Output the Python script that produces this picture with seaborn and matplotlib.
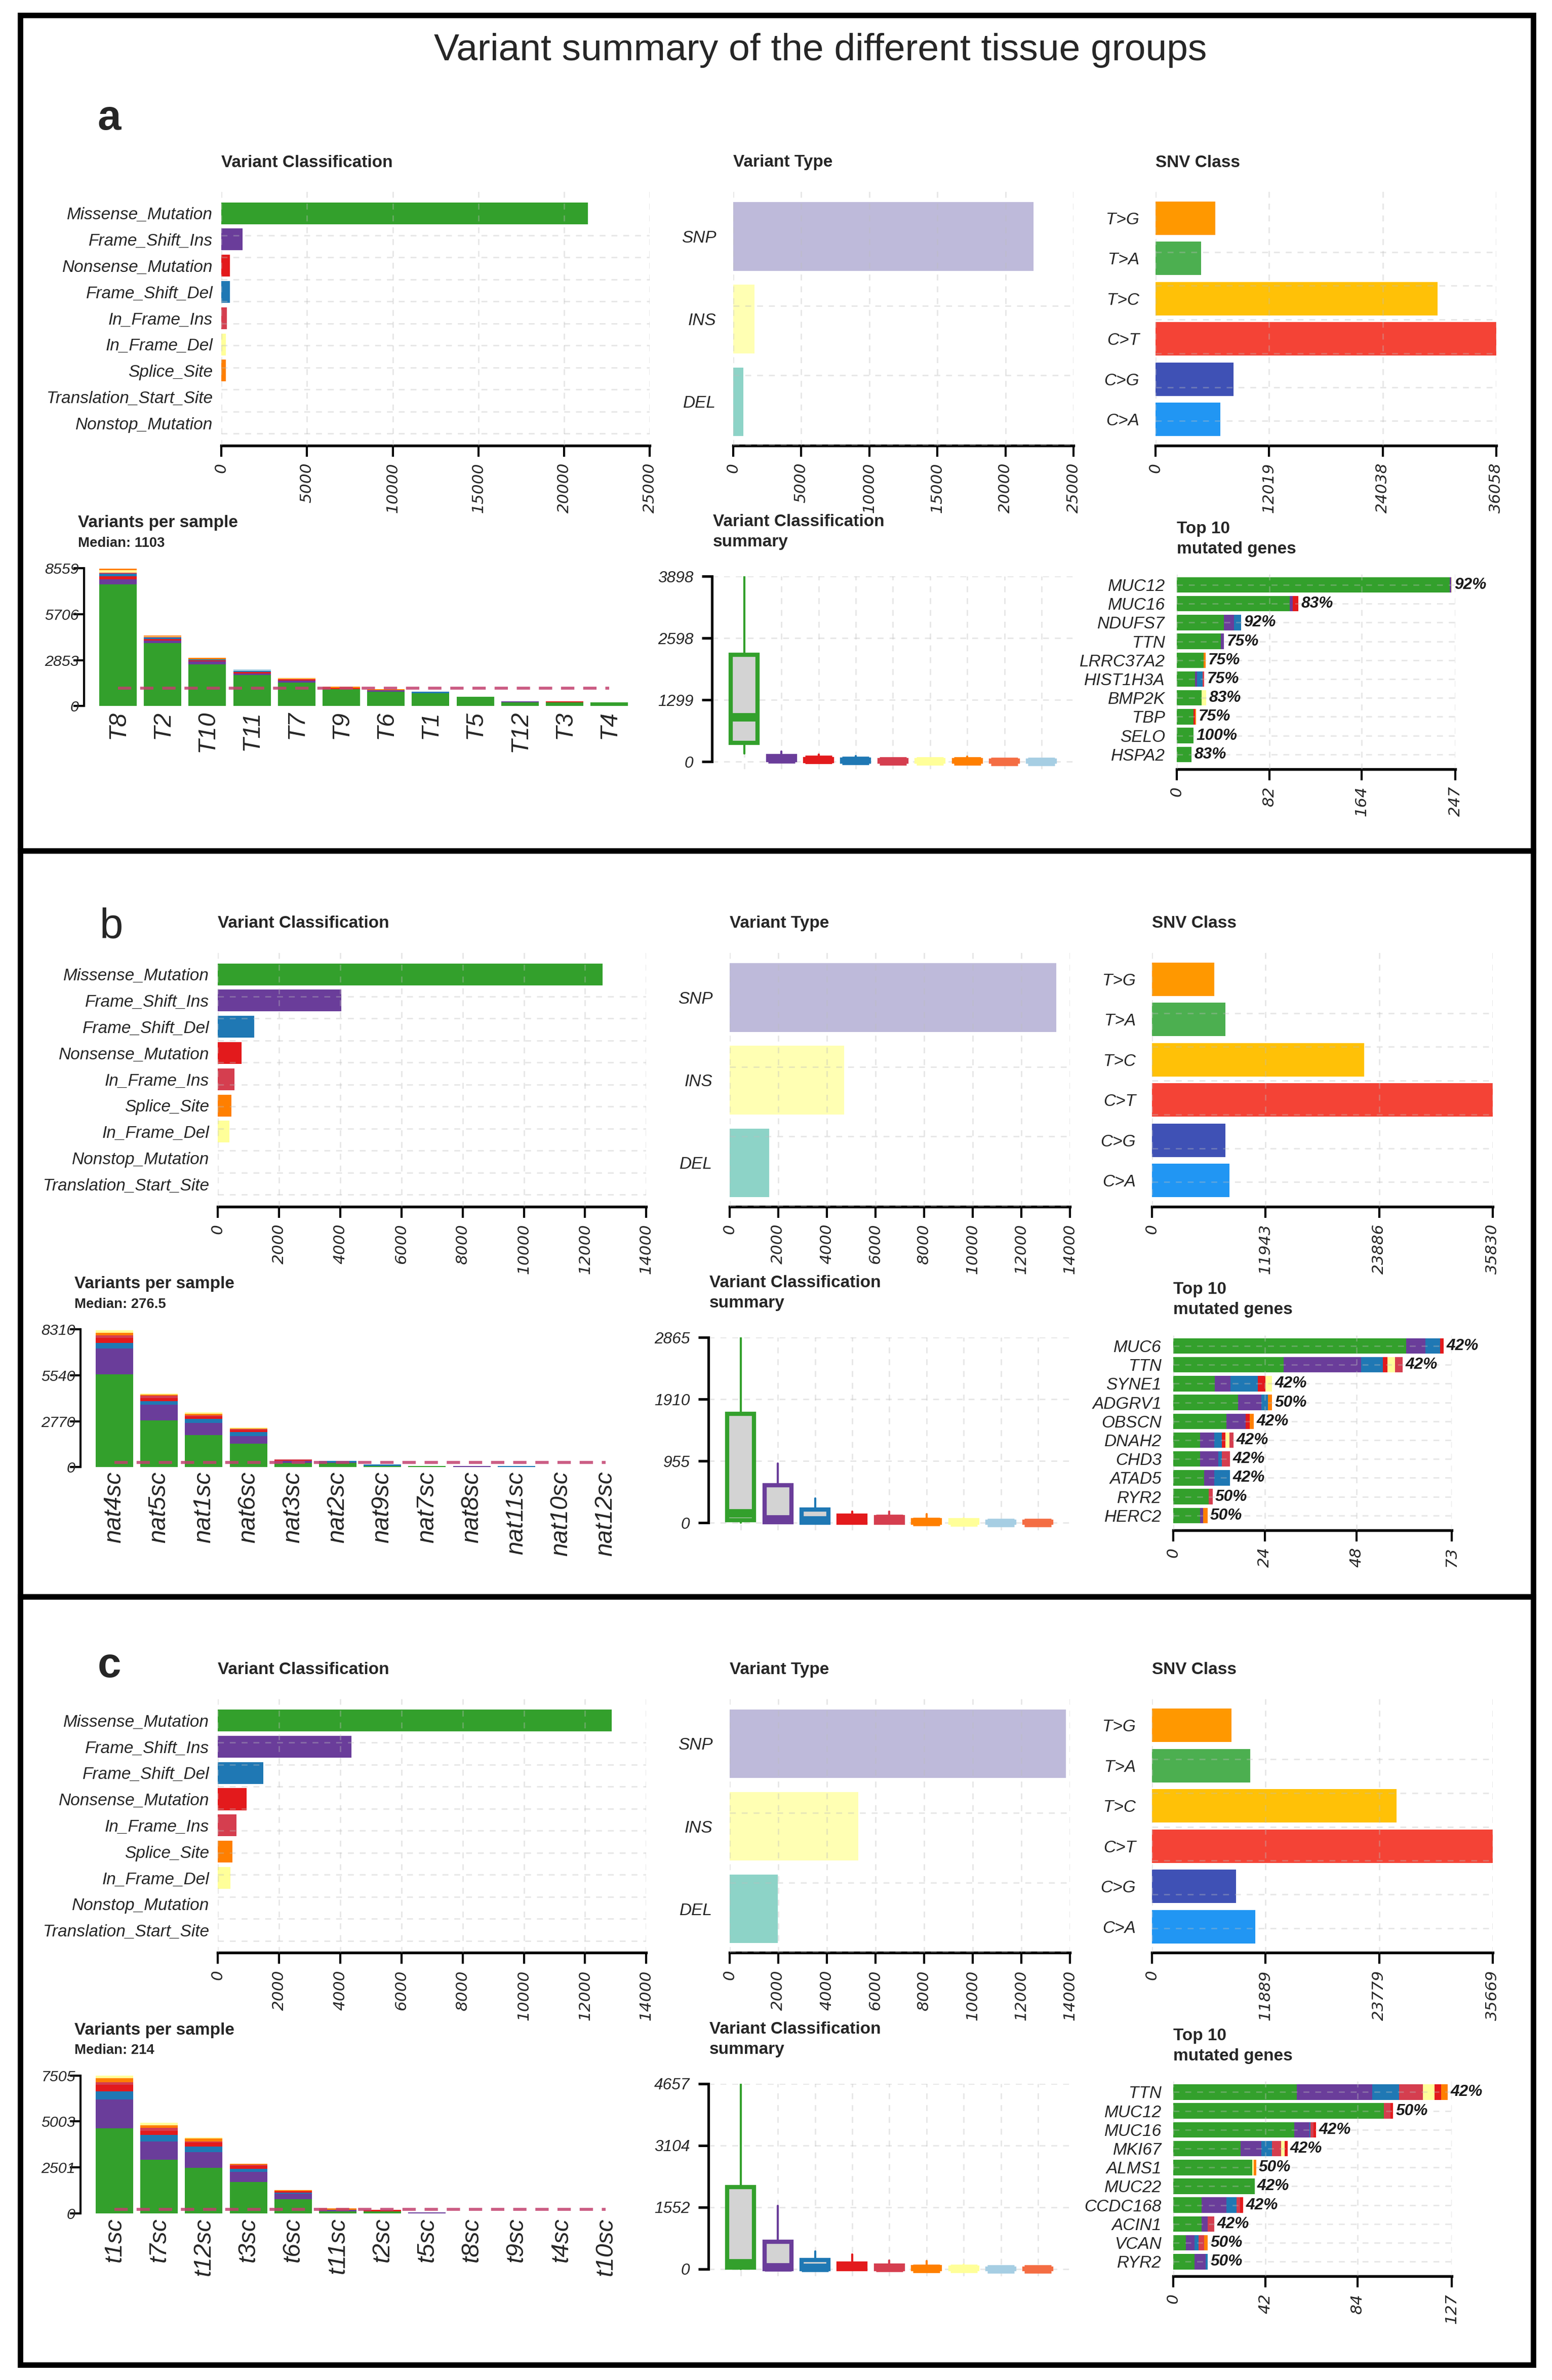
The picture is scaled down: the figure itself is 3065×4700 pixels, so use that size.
import matplotlib
matplotlib.use("Agg")
import matplotlib.pyplot as plt
from matplotlib.patches import Rectangle
from matplotlib.ticker import MultipleLocator
import pandas as pd
import seaborn as sns

# colours (maftools defaults)
VC_COLORS = {
    "Missense_Mutation": "#33A02C", "Frame_Shift_Ins": "#6A3D9A",
    "Nonsense_Mutation": "#E31A1C", "Frame_Shift_Del": "#1F78B4",
    "In_Frame_Ins": "#D53E4F", "In_Frame_Del": "#FFFF99",
    "Splice_Site": "#FF7F00", "Translation_Start_Site": "#F46D43",
    "Nonstop_Mutation": "#A6CEE3",
}
VT_COLORS = {"SNP": "#BEBADA", "INS": "#FFFFB3", "DEL": "#8DD3C7"}
SNV_COLORS = {"T>G": "#FF9800", "T>A": "#4CAF50", "T>C": "#FFC107",
              "C>T": "#F44336", "C>G": "#3F51B5", "C>A": "#2196F3"}

VT_TYPES = ["SNP", "INS", "DEL"]
SNV_CLASSES = ["T>G", "T>A", "T>C", "C>T", "C>G", "C>A"]

# ---------------- panel a ----------------
A_VC_CLASSES = ["Missense_Mutation", "Frame_Shift_Ins", "Nonsense_Mutation", "Frame_Shift_Del",
                "In_Frame_Ins", "In_Frame_Del", "Splice_Site", "Translation_Start_Site",
                "Nonstop_Mutation"]
A_VC_COUNTS = [21384, 1243, 508, 505, 330, 270, 262, 4, 2]
A_VC_TICKS = [0, 5000, 10000, 15000, 20000, 25000]
A_VT_COUNTS = [22078, 1586, 751]
A_SNV_COUNTS = [6331, 4824, 29848, 36058, 8261, 6874]
A_SNV_TICKS = [0, 12019, 24038, 36058]
A_SAMPLES = ["T8", "T2", "T10", "T11", "T7", "T9", "T6", "T1", "T5", "T12", "T3", "T4"]
A_SAMPLE_COUNTS = [
    [7569, 311, 184, 155, 70, 156, 85, 0, 0],
    [3905, 156, 99, 85, 40, 31, 71, 0, 0],
    [2589, 184, 57, 71, 0, 0, 85, 0, 0],
    [1938, 71, 99, 85, 0, 0, 0, 0, 71],
    [1457, 141, 85, 0, 0, 35, 36, 0, 0],
    [1047, 0, 57, 0, 0, 0, 99, 0, 0],
    [877, 99, 0, 0, 0, 0, 71, 0, 0],
    [806, 0, 0, 71, 0, 0, 0, 0, 0],
    [566, 0, 0, 0, 0, 0, 0, 0, 0],
    [226, 85, 0, 0, 0, 0, 0, 0, 0],
    [226, 0, 85, 0, 0, 0, 0, 0, 0],
    [240, 0, 0, 0, 0, 0, 0, 0, 0],
]
A_MEDIAN = 1103
A_SAMPLE_TICKS = [0, 2853, 5706, 8559]
A_BOX_LOW = [177, 0, 0, 0, 0, 0, 0, 0, 0]
A_BOX_Q1 = [391, 30, 10, 0, 0, 0, 0, 0, 0]
A_BOX_MED = [940, 57, 40, 20, 15, 10, 15, 0, 0]
A_BOX_Q3 = [2252, 115, 57, 43, 35, 30, 35, 20, 20]
A_BOX_HIGH = [3898, 210, 153, 115, 50, 40, 105, 20, 20]
A_BOX_TICKS = [0, 1299, 2598, 3898]
A_GENES = ["MUC12", "MUC16", "NDUFS7", "TTN", "LRRC37A2", "HIST1H3A", "BMP2K", "TBP", "SELO", "HSPA2"]
A_GENE_CLASSES = ["Missense_Mutation", "Frame_Shift_Ins", "Frame_Shift_Del", "Nonsense_Mutation",
                  "In_Frame_Ins", "In_Frame_Del", "Splice_Site"]
A_GENE_COUNTS = [
    [242, 1.2, 0, 0, 0, 0.8, 0],
    [100, 3, 0, 5, 0, 0, 0],
    [42, 9, 6, 0, 0, 0, 0],
    [39, 3, 0, 0, 0, 0, 0],
    [24, 0, 0, 0, 0, 0, 1.5],
    [16, 2, 5, 0, 1.5, 0, 0],
    [22, 0, 0, 0, 0, 4, 0],
    [15, 0, 0, 1, 0, 0, 1],
    [15, 0, 0, 0, 0, 0, 0],
    [13, 0, 0, 0, 0, 0, 0],
]
A_GENE_PCT = ["92%", "83%", "92%", "75%", "75%", "75%", "83%", "75%", "100%", "83%"]
A_GENE_TICKS = [0, 82, 164, 247]

# ---------------- panel b ----------------
B_VC_CLASSES = ["Missense_Mutation", "Frame_Shift_Ins", "Frame_Shift_Del", "Nonsense_Mutation",
                "In_Frame_Ins", "Splice_Site", "In_Frame_Del", "Nonstop_Mutation",
                "Translation_Start_Site"]
B_VC_COUNTS = [12577, 4041, 1196, 776, 550, 453, 388, 3, 2]
B_VC_TICKS = [0, 2000, 4000, 6000, 8000, 10000, 12000, 14000]
B_VT_COUNTS = [13430, 4721, 1628]
B_SNV_COUNTS = [6562, 7708, 22290, 35830, 7708, 8124]
B_SNV_TICKS = [0, 11943, 23886, 35830]
B_SAMPLES = ["nat4sc", "nat5sc", "nat1sc", "nat6sc", "nat3sc", "nat2sc", "nat9sc", "nat7sc",
             "nat8sc", "nat11sc", "nat10sc", "nat12sc"]
B_SAMPLE_COUNTS = [
    [5612, 1553, 313, 328, 149, 150, 151, 0, 0],
    [2819, 940, 218, 177, 164, 54, 55, 0, 0],
    [1948, 708, 259, 149, 69, 82, 81, 0, 0],
    [1403, 477, 231, 123, 68, 41, 40, 0, 0],
    [259, 109, 0, 55, 54, 0, 0, 0, 0],
    [259, 40, 82, 0, 0, 0, 0, 0, 0],
    [68, 0, 82, 0, 0, 0, 0, 0, 0],
    [68, 0, 0, 0, 0, 0, 0, 0, 0],
    [0, 68, 0, 0, 0, 0, 0, 0, 0],
    [0, 0, 68, 0, 0, 0, 0, 0, 0],
    [0, 0, 0, 0, 0, 0, 0, 0, 0],
    [0, 0, 0, 0, 0, 0, 0, 0, 0],
]
B_MEDIAN = 276.5
B_SAMPLE_TICKS = [0, 2770, 5540, 8310]
B_BOX_LOW = [0, 0, 0, 0, 0, 0, 0, 0, 0]
B_BOX_Q1 = [40, 10, 0, 0, 0, 0, 0, 0, 0]
B_BOX_MED = [150, 56, 38, 56, 63, 20, 10, 0, 0]
B_BOX_Q3 = [1688, 580, 203, 108, 91, 38, 38, 15, 15]
B_BOX_HIGH = [2865, 919, 377, 171, 171, 133, 73, 15, 15]
B_BOX_TICKS = [0, 955, 1910, 2865]
B_GENES = ["MUC6", "TTN", "SYNE1", "ADGRV1", "OBSCN", "DNAH2", "CHD3", "ATAD5", "RYR2", "HERC2"]
B_GENE_CLASSES = ["Missense_Mutation", "Frame_Shift_Ins", "Frame_Shift_Del", "Nonsense_Mutation",
                  "In_Frame_Del", "In_Frame_Ins", "Splice_Site"]
B_GENE_COUNTS = [
    [61.0, 5.1, 3.8, 1.0, 0, 0, 0],
    [29.0, 20.2, 5.8, 1.1, 2.0, 2.0, 0],
    [10.9, 4.1, 7.2, 2.0, 1.7, 0, 0],
    [17.0, 6.1, 1.7, 0, 0, 0, 1.1],
    [14.0, 5.0, 0, 1.1, 0, 0, 1.0],
    [7.1, 3.6, 2.1, 0.9, 1.0, 1.1, 0],
    [7.1, 4.7, 1.0, 0, 0, 2.1, 0],
    [8.1, 2.6, 4.2, 0, 0, 0, 0],
    [9.3, 0, 0, 0, 0, 1.0, 0],
    [7.1, 0.7, 0, 0, 0, 0, 1.2],
]
B_GENE_PCT = ["42%", "42%", "42%", "50%", "42%", "42%", "42%", "42%", "50%", "50%"]
B_GENE_TICKS = [0, 24, 48, 73]

# ---------------- panel c ----------------
C_VC_CLASSES = B_VC_CLASSES
C_VC_COUNTS = [12868, 4365, 1487, 938, 614, 485, 420, 3, 2]
C_VC_TICKS = [0, 2000, 4000, 6000, 8000, 10000, 12000, 14000]
C_VT_COUNTS = [13837, 5291, 1994]
C_SNV_COUNTS = [8295, 10265, 25612, 35669, 8814, 10784]
C_SNV_TICKS = [0, 11889, 23779, 35669]
C_SAMPLES = ["t1sc", "t7sc", "t12sc", "t3sc", "t6sc", "t11sc", "t2sc", "t5sc", "t8sc", "t9sc",
             "t4sc", "t10sc"]
C_SAMPLE_COUNTS = [
    [4631, 1569, 436, 373, 125, 224, 135, 0, 0],
    [2913, 996, 374, 211, 150, 149, 137, 0, 0],
    [2478, 859, 286, 237, 62, 150, 49, 0, 0],
    [1706, 560, 162, 149, 63, 62, 0, 0, 0],
    [772, 299, 62, 75, 0, 62, 0, 0, 0],
    [100, 87, 0, 0, 0, 87, 0, 0, 0],
    [100, 0, 0, 87, 0, 0, 0, 0, 0],
    [0, 62, 0, 0, 0, 0, 0, 0, 0],
    [0, 0, 0, 0, 0, 0, 0, 0, 0],
    [0, 0, 0, 0, 0, 0, 0, 0, 0],
    [0, 0, 0, 0, 0, 0, 0, 0, 0],
    [0, 0, 0, 0, 0, 0, 0, 0, 0],
]
C_MEDIAN = 214
C_SAMPLE_TICKS = [0, 2501, 5003, 7505]
C_BOX_LOW = [0, 0, 0, 0, 0, 0, 0, 0, 0]
C_BOX_Q1 = [40, 0, 0, 0, 0, 0, 0, 0, 0]
C_BOX_MED = [154, 46, 28, 60, 30, 10, 5, 0, 0]
C_BOX_Q3 = [2063, 684, 228, 142, 86, 46, 28, 15, 15]
C_BOX_HIGH = [4657, 1585, 445, 371, 211, 200, 114, 15, 15]
C_BOX_TICKS = [0, 1552, 3104, 4657]
C_GENES = ["TTN", "MUC12", "MUC16", "MKI67", "ALMS1", "MUC22", "CCDC168", "ACIN1", "VCAN", "RYR2"]
C_GENE_CLASSES = ["Missense_Mutation", "Frame_Shift_Ins", "Frame_Shift_Del", "In_Frame_Ins",
                  "In_Frame_Del", "Nonsense_Mutation", "Splice_Site"]
C_GENE_COUNTS = [
    [56.3, 34.5, 12.3, 10.8, 5.3, 2.9, 3.1],
    [96.1, 0, 0, 2.9, 0, 1.2, 0],
    [55.1, 7.0, 0.6, 1.3, 0, 1.1, 0],
    [30.8, 9.4, 4.8, 4.2, 1.7, 1.2, 0],
    [36.1, 0, 0, 0, 0.7, 0, 1.0],
    [37.1, 0, 0, 0, 0, 0, 0],
    [12.9, 11.3, 4.6, 1.8, 0, 1.2, 0],
    [12.9, 2.8, 0, 3.0, 0, 0, 0],
    [5.8, 4.0, 1.8, 2.5, 0, 0, 1.6],
    [9.8, 5.1, 0.8, 0, 0, 0, 0],
]
C_GENE_PCT = ["42%", "50%", "42%", "42%", "50%", "42%", "42%", "42%", "50%", "50%"]
C_GENE_TICKS = [0, 42, 84, 127]

PANELS = [
    dict(letter="a", weight="bold", letter_xy=(216, 234), shift=(7, -1503),
         vc_classes=A_VC_CLASSES, vc_counts=A_VC_COUNTS, vc_ticks=A_VC_TICKS,
         vt_counts=A_VT_COUNTS, snv_counts=A_SNV_COUNTS, snv_ticks=A_SNV_TICKS,
         samples=A_SAMPLES, sample_counts=A_SAMPLE_COUNTS, median=A_MEDIAN,
         median_label="Median: 1103", sample_ticks=A_SAMPLE_TICKS,
         box=(A_BOX_LOW, A_BOX_Q1, A_BOX_MED, A_BOX_Q3, A_BOX_HIGH), box_ticks=A_BOX_TICKS,
         genes=A_GENES, gene_classes=A_GENE_CLASSES, gene_counts=A_GENE_COUNTS,
         gene_pct=A_GENE_PCT, gene_ticks=A_GENE_TICKS),
    dict(letter="b", weight="normal", letter_xy=(220, 1831), shift=(0, 0),
         vc_classes=B_VC_CLASSES, vc_counts=B_VC_COUNTS, vc_ticks=B_VC_TICKS,
         vt_counts=B_VT_COUNTS, snv_counts=B_SNV_COUNTS, snv_ticks=B_SNV_TICKS,
         samples=B_SAMPLES, sample_counts=B_SAMPLE_COUNTS, median=B_MEDIAN,
         median_label="Median: 276.5", sample_ticks=B_SAMPLE_TICKS,
         box=(B_BOX_LOW, B_BOX_Q1, B_BOX_MED, B_BOX_Q3, B_BOX_HIGH), box_ticks=B_BOX_TICKS,
         genes=B_GENES, gene_classes=B_GENE_CLASSES, gene_counts=B_GENE_COUNTS,
         gene_pct=B_GENE_PCT, gene_ticks=B_GENE_TICKS),
    dict(letter="c", weight="bold", letter_xy=(216, 3290), shift=(0, 1473.5),
         vc_classes=C_VC_CLASSES, vc_counts=C_VC_COUNTS, vc_ticks=C_VC_TICKS,
         vt_counts=C_VT_COUNTS, snv_counts=C_SNV_COUNTS, snv_ticks=C_SNV_TICKS,
         samples=C_SAMPLES, sample_counts=C_SAMPLE_COUNTS, median=C_MEDIAN,
         median_label="Median: 214", sample_ticks=C_SAMPLE_TICKS,
         box=(C_BOX_LOW, C_BOX_Q1, C_BOX_MED, C_BOX_Q3, C_BOX_HIGH), box_ticks=C_BOX_TICKS,
         genes=C_GENES, gene_classes=C_GENE_CLASSES, gene_counts=C_GENE_COUNTS,
         gene_pct=C_GENE_PCT, gene_ticks=C_GENE_TICKS),
]

sns.set_style("white")
plt.rcParams["font.family"] = ["Liberation Sans", "DejaVu Sans"]

W, H = 3065, 4700
fig = plt.figure(figsize=(W / 300, H / 300), dpi=300)

GRID = dict(color="#BDBDBD", alpha=0.35, lw=0.7, ls=(0, (4, 4)))
TITLE = dict(fontsize=8, fontweight="bold", ha="left", va="center")
NUM_FONT = dict(fontfamily="DejaVu Sans", fontstyle="oblique", fontsize=7.5)


def add_ax(x0, y0, x1, y1):
    return fig.add_axes([x0 / W, 1 - y1 / H, (x1 - x0) / W, (y1 - y0) / H])


def px_text(x, y, s, **kw):
    fig.text(x / W, 1 - y / H, s, **kw)


def value_axis(ax, ticks):
    ax.set_xticks(ticks)
    ax.set_xticklabels([str(t) for t in ticks], rotation=90, **NUM_FONT)
    ax.tick_params(axis="x", bottom=True, direction="out", length=5.2, width=1.0, pad=3.0,
                   color="black")
    for s in ["top", "right", "left"]:
        ax.spines[s].set_visible(False)
    ax.spines["bottom"].set_linewidth(1.3)
    ax.spines["bottom"].set_color("black")
    ax.set_xlabel("")
    ax.set_ylabel("")


def hbar(x0, x1, top, spine, pads, cats, vals, palette, ticks, label_pad):
    ax = add_ax(x0, top, x1, spine)
    df = pd.DataFrame({"cat": cats, "val": vals})
    sns.barplot(data=df, x="val", y="cat", hue="cat", palette=palette, orient="h",
                width=0.83, saturation=1, linewidth=0, legend=False, ax=ax)
    ax.set_xlim(0, ticks[-1])
    ax.set_ylim(len(cats) - 1 + pads[1], -pads[0])
    value_axis(ax, ticks)
    ax.tick_params(axis="y", left=False, length=0, pad=label_pad, labelsize=8)
    for lab in ax.get_yticklabels():
        lab.set_fontstyle("italic")
    ax.set_axisbelow(False)
    ax.grid(True, axis="x", which="major", **GRID)
    ax.yaxis.set_minor_locator(MultipleLocator(0.84))
    ax.grid(True, axis="y", which="minor", **GRID)
    ax.tick_params(axis="y", which="minor", length=0)
    return ax


def sample_panel(p, dx, dy):
    n = len(p["samples"])
    spine_x, first_c, spacing = 159 + dx, 226 + dx, 88.2
    y0, ytop = 2897.4 + dy, 2625.1 + dy
    ax = add_ax(spine_x, ytop, first_c + (n - 0.5) * spacing, y0)
    bottom = [0] * n
    for k, cls in enumerate(p["vc_classes"]):
        seg = [row[k] for row in p["sample_counts"]]
        ax.bar(range(n), seg, bottom=bottom, width=0.84, color=VC_COLORS[cls], linewidth=0)
        bottom = [b + s for b, s in zip(bottom, seg)]
    ax.plot([0, n - 1], [p["median"], p["median"]], color="#C2406E", lw=1.4,
            ls=(0, (4.5, 3)), alpha=0.85)
    ax.set_xlim((spine_x - first_c) / spacing, n - 0.5)
    ticks = p["sample_ticks"]
    ax.set_ylim(0, ticks[-1])
    ax.set_xticks(range(n))
    ax.set_xticklabels(p["samples"], rotation=90, fontsize=11.5, fontstyle="italic")
    ax.tick_params(axis="x", bottom=False, length=0, pad=2)
    ax.set_yticks(ticks)
    ax.set_yticklabels([str(t) for t in ticks], fontsize=7.3, fontstyle="italic")
    ax.tick_params(axis="y", left=True, direction="out", length=5, width=1.0, pad=-2.6,
                   color="black")
    for s in ["top", "right", "bottom"]:
        ax.spines[s].set_visible(False)
    ax.spines["left"].set_bounds(0, ticks[-1])
    ax.spines["left"].set_linewidth(1.0)
    ax.spines["left"].set_color("black")
    px_text(147 + dx, 2535.8 + dy, "Variants per sample", **TITLE)
    px_text(147 + dx, 2576 + dy, p["median_label"], fontsize=6.6, fontweight="bold",
            ha="left", va="center")


def box_panel(p, dx, dy):
    low, q1, med, q3, high = p["box"]
    n = len(low)
    axis_x, first_c, spacing = 1399 + dx, 1462.7 + dx, 73.4
    y0, ytop = 3007.2 + dy, 2641.2 + dy
    ticks = p["box_ticks"]
    below = 0.04
    ax = add_ax(axis_x, ytop, first_c + 8.9 * spacing, y0 + below * (y0 - ytop))
    stats = [dict(whislo=a, q1=b, med=c, q3=d, whishi=e, fliers=[])
             for a, b, c, d, e in zip(low, q1, med, q3, high)]
    bp = ax.bxp(stats, positions=range(n), widths=0.72, patch_artist=True,
                showcaps=False, showfliers=False)
    colors = [VC_COLORS[c] for c in p["vc_classes"]]
    for patch, col in zip(bp["boxes"], colors):
        patch.set_facecolor("#D3D3D3")
        patch.set_edgecolor(col)
        patch.set_linewidth(2.0)
    for line, col in zip(bp["medians"], colors):
        line.set_color(col)
        line.set_linewidth(4)
        line.set_solid_capstyle("butt")
    for i, line in enumerate(bp["whiskers"]):
        line.set_color(colors[i // 2])
        line.set_linewidth(1.0)
    ax.set_xlim((axis_x - first_c) / spacing, 8.9)
    ax.set_ylim(-below * ticks[-1], ticks[-1])
    ax.set_xticks(range(n))
    ax.set_xticklabels([""] * n)
    ax.tick_params(axis="x", bottom=False, length=0)
    ax.set_yticks(ticks)
    ax.set_yticklabels([str(t) for t in ticks], fontsize=7.6, fontstyle="italic")
    ax.tick_params(axis="y", left=True, direction="out", length=4.8, width=1.2, pad=4,
                   color="black")
    for s in ["top", "right", "bottom"]:
        ax.spines[s].set_visible(False)
    ax.spines["left"].set_bounds(0, ticks[-1])
    ax.spines["left"].set_linewidth(1.2)
    ax.spines["left"].set_color("black")
    ax.set_axisbelow(True)
    ax.grid(True, axis="both", **GRID)
    px_text(1401 + dx, 2533.6 + dy, "Variant Classification", **TITLE)
    px_text(1401 + dx, 2573.75 + dy, "summary", **TITLE)


def gene_panel(p, dx, dy):
    genes = p["genes"]
    n = len(genes)
    ticks = p["gene_ticks"]
    x0, x1 = 2316.9 + dx, 2867 + dx
    first_c, spacing, spine = 2657.9 + dy, 37.2, 3021.5 + dy
    pads = (0.81, 0.77)
    ax = add_ax(x0, first_c - pads[0] * spacing, x1, spine)
    left = [0] * n
    for k, cls in enumerate(p["gene_classes"]):
        seg = [row[k] for row in p["gene_counts"]]
        ax.barh(range(n), seg, left=left, height=0.82, color=VC_COLORS[cls], linewidth=0)
        left = [a + b for a, b in zip(left, seg)]
    for i, (tot, pct) in enumerate(zip(left, p["gene_pct"])):
        ax.annotate(pct, (tot, i), xytext=(1.3, 0), textcoords="offset points",
                    va="center", ha="left", fontsize=7.6, fontweight="bold",
                    fontstyle="italic", color="#1a1a1a")
    ax.set_xlim(0, ticks[-1])
    ax.set_ylim(n - 1 + pads[1], -pads[0])
    value_axis(ax, ticks)
    ax.set_yticks(range(n))
    ax.set_yticklabels(genes, fontsize=8, fontstyle="italic")
    ax.tick_params(axis="y", left=False, length=0, pad=5.5)
    ax.set_axisbelow(False)
    ax.grid(True, axis="both", **GRID)
    px_text(2317 + dx, 2547 + dy, "Top 10", **TITLE)
    px_text(2317 + dx, 2587 + dy, "mutated genes", **TITLE)


def draw_panel(p):
    dx, dy = p["shift"]
    for x, t in [(430, "Variant Classification"), (1440.6, "Variant Type"), (2275.3, "SNV Class")]:
        px_text(x + dx, 1824 + dy, t, **TITLE)
    top, spine = 1881 + dy, 2382.7 + dy
    hbar(430 + dx, 1276.4 + dx, top, spine, (0.83, 0.85), p["vc_classes"], p["vc_counts"],
         VC_COLORS, p["vc_ticks"], 4.0)
    hbar(1440.6 + dx, 2113 + dx, top, spine, (0.545, 0.53), VT_TYPES, p["vt_counts"],
         VT_COLORS, p["vc_ticks"], 8.0)
    hbar(2275.3 + dx, 2947.7 + dx, top, spine, (0.665, 0.65), SNV_CLASSES, p["snv_counts"],
         SNV_COLORS, p["snv_ticks"], 7.7)
    sample_panel(p, dx, dy)
    box_panel(p, dx, dy)
    gene_panel(p, dx, dy)
    lx, ly = p["letter_xy"]
    px_text(lx, ly, p["letter"], fontsize=20, fontweight=p["weight"], ha="center", va="center")


for panel in PANELS:
    draw_panel(panel)

# frames around the three panels
for top, bottom in [(30, 1680), (1680, 3153), (3153, 4670)]:
    fig.add_artist(Rectangle((40 / W, 1 - bottom / H), (3028 - 40) / W, (bottom - top) / H,
                             transform=fig.transFigure, fill=False, lw=2.6, ec="black"))

px_text(1620, 100, "Variant summary of the different tissue groups", fontsize=18,
        ha="center", va="center")

fig.savefig("out.png", dpi=300)
